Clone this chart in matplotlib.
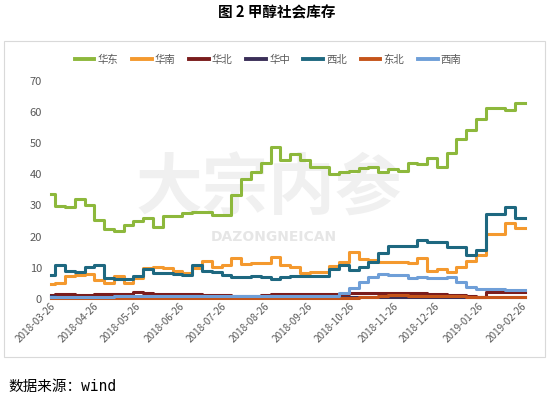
import matplotlib.pyplot as plt
import matplotlib.dates as mdates
import pandas as pd
from matplotlib.patches import Rectangle

plt.rcParams['font.family'] = ['Noto Sans CJK SC', 'DejaVu Sans']

# weekly inventory (10k t); first point is a short partial week
start_date = "2018-03-24"
first_change = "2018-03-27"
end_date = "2019-02-26"

huadong = [33.7, 29.9, 29.5, 32.0, 30.1, 25.3, 22.3, 21.8, 23.7, 25.1, 26.1, 23.2, 26.7, 26.7,
           27.5, 28.0, 28.0, 26.9, 26.9, 33.3, 38.5, 40.8, 43.7, 48.6, 44.7, 46.5, 44.5, 42.4,
           42.4, 40.1, 40.6, 41.1, 41.9, 42.4, 40.6, 41.8, 41.1, 43.7, 43.3, 45.1, 42.2, 46.9,
           51.2, 54.2, 57.6, 61.1, 61.1, 60.6, 62.9]
huanan = [4.7, 5.0, 7.5, 7.8, 7.9, 6.1, 5.2, 7.4, 5.2, 6.8, 9.8, 10.2, 10.0, 9.0, 8.3, 10.0,
          12.1, 10.4, 10.8, 13.0, 11.2, 11.6, 11.6, 13.4, 11.0, 10.4, 8.2, 8.8, 8.8, 10.6, 12.0,
          15.2, 12.7, 12.6, 12.0, 12.0, 12.0, 11.6, 13.0, 9.1, 9.5, 8.8, 10.4, 12.2, 14.0, 20.8,
          20.8, 24.5, 22.8]
huabei = [1.2, 1.6, 1.5, 1.4, 1.4, 1.5, 1.6, 1.6, 1.7, 2.1, 1.9, 1.7, 1.6, 1.7, 1.5, 1.5, 1.4,
          1.3, 1.2, 1.1, 1.1, 1.1, 1.2, 1.5, 1.6, 1.6, 1.6, 1.6, 1.6, 1.7, 1.7, 1.8, 1.9, 1.9,
          1.9, 1.9, 1.9, 1.8, 1.8, 1.7, 1.6, 1.4, 1.2, 1.0, 0.5, 2.4, 2.3, 2.2, 2.1]
huazhong = [0.9, 0.6, 0.6, 0.6, 0.6, 0.6, 0.6, 0.6, 0.6, 0.6, 0.6, 0.6, 0.6, 0.6, 0.6, 0.6,
            0.6, 0.6, 0.6, 0.6, 0.6, 0.6, 0.6, 0.6, 0.6, 0.6, 0.6, 0.6, 0.6, 0.6, 0.6, 0.6,
            0.6, 0.6, 0.6, 0.6, 0.6, 0.6, 0.6, 0.6, 0.6, 0.6, 0.6, 0.6, 0.5, 0.5, 0.5, 0.5, 0.5]
xibei = [7.6, 10.8, 9.1, 8.5, 10.2, 10.8, 6.6, 6.5, 6.3, 7.3, 9.7, 8.2, 8.2, 8.0, 7.7, 10.9,
         9.1, 8.8, 7.7, 7.0, 7.0, 7.4, 7.2, 6.3, 7.2, 7.3, 7.3, 7.3, 7.4, 9.5, 10.9, 9.3, 10.4,
         12.0, 14.6, 17.0, 17.1, 17.0, 19.0, 18.4, 18.4, 16.8, 16.8, 14.1, 15.7, 27.3, 27.3,
         29.5, 25.9]
dongbei = [0.3, 0.3, 0.3, 0.3, 0.3, 0.3, 0.3, 0.3, 0.3, 0.3, 0.3, 0.3, 0.3, 0.3, 0.3, 0.3,
           0.3, 0.3, 0.3, 0.3, 0.3, 0.3, 0.3, 0.3, 0.3, 0.3, 0.3, 0.3, 0.3, 0.3, 0.3, 0.3,
           0.5, 0.8, 1.1, 1.2, 1.2, 1.1, 1.1, 1.0, 1.0, 0.9, 0.9, 0.8, 0.6, 0.7, 0.7, 0.6, 0.6]
xinan = [0.7, 0.8, 0.8, 0.8, 0.8, 0.8, 0.8, 0.9, 0.9, 0.9, 0.9, 0.9, 0.9, 0.9, 0.9, 0.9, 0.9,
         0.9, 0.9, 0.9, 0.9, 0.9, 1.0, 1.0, 1.0, 1.0, 1.0, 1.0, 1.0, 1.1, 1.8, 3.4, 5.6, 7.2,
         8.1, 7.7, 7.6, 6.6, 7.2, 6.8, 6.8, 7.0, 5.3, 4.0, 3.3, 3.1, 3.1, 3.0, 2.9]

names = ["华东", "华南", "华北", "华中", "西北", "东北", "西南"]
series = [huadong, huanan, huabei, huazhong, xibei, dongbei, xinan]
colors = ["#8DB83C", "#F4992E", "#7A1C1C", "#3B2F58", "#1E6880", "#C5541A", "#6F9FD8"]

changes = pd.date_range(first_change, periods=len(huadong) - 1, freq="7D")
dates = [pd.Timestamp(start_date)] + list(changes) + [pd.Timestamp(end_date)]
tick_dates = pd.date_range("2018-03-01", "2019-02-01", freq="MS") + pd.Timedelta(days=25)

W, H = 550, 399
fig = plt.figure(figsize=(5.5, 3.99), dpi=100)
fig.add_artist(Rectangle((4 / W, 1 - 357 / H), 541 / W, 316 / H, transform=fig.transFigure,
                         fill=False, edgecolor="#D9D9D9", linewidth=0.8))

ax = fig.add_axes([51 / W, 100 / H, 474 / W, 218.3 / H])

# watermark
ax.text(0.46, 0.50, "大宗内参", transform=ax.transAxes, ha="center", va="center",
        fontsize=48, fontweight="bold", color="#F0F0F0", zorder=0)
ax.text(0.47, 0.285, "DAZONGNEICAN", transform=ax.transAxes, ha="center", va="center",
        fontsize=10, fontweight="bold", color="#E6E6E6", family="DejaVu Sans", zorder=0)

for name, vals, color in zip(names, series, colors):
    ax.step(dates, vals + [vals[-1]], where="post", color=color, linewidth=2.2,
            label=name, clip_on=False)

ax.set_xlim(pd.Timestamp(start_date), pd.Timestamp(end_date))
ax.set_ylim(0, 70)
ax.set_yticks(range(0, 71, 10))
ax.set_xticks(tick_dates)
ax.xaxis.set_major_formatter(mdates.DateFormatter("%Y-%m-%d"))
for spine in ax.spines.values():
    spine.set_visible(False)
ax.tick_params(axis="y", length=0, pad=6.5, labelsize=8, labelcolor="#595959")
ax.tick_params(axis="x", length=0, pad=4, labelsize=7.2, labelcolor="#595959")
for lbl in ax.get_xticklabels():
    lbl.set_rotation(45)
    lbl.set_ha("right")
    lbl.set_va("center")
    lbl.set_rotation_mode("anchor")

handles, labels = ax.get_legend_handles_labels()
leg = fig.legend(handles, labels, loc="center", bbox_to_anchor=(268 / W, 1 - 60 / H), ncol=7,
                 frameon=False, fontsize=7.5, handlelength=1.9, handletextpad=0.3,
                 columnspacing=1.3)
for t in leg.get_texts():
    t.set_color("#595959")
for line in leg.get_lines():
    line.set_linewidth(2.8)

fig.text(277 / W, 1 - 12 / H, "图 2 甲醇社会库存", ha="center", va="center",
         fontsize=10.5, fontweight="bold")
fig.text(8 / W, 1 - 387 / H, "数据来源：wind", ha="left", va="center", fontsize=10.5,
         family=["DejaVu Sans Mono", "Noto Sans CJK SC"])

fig.savefig("out.png", dpi=100)
plt.close(fig)
